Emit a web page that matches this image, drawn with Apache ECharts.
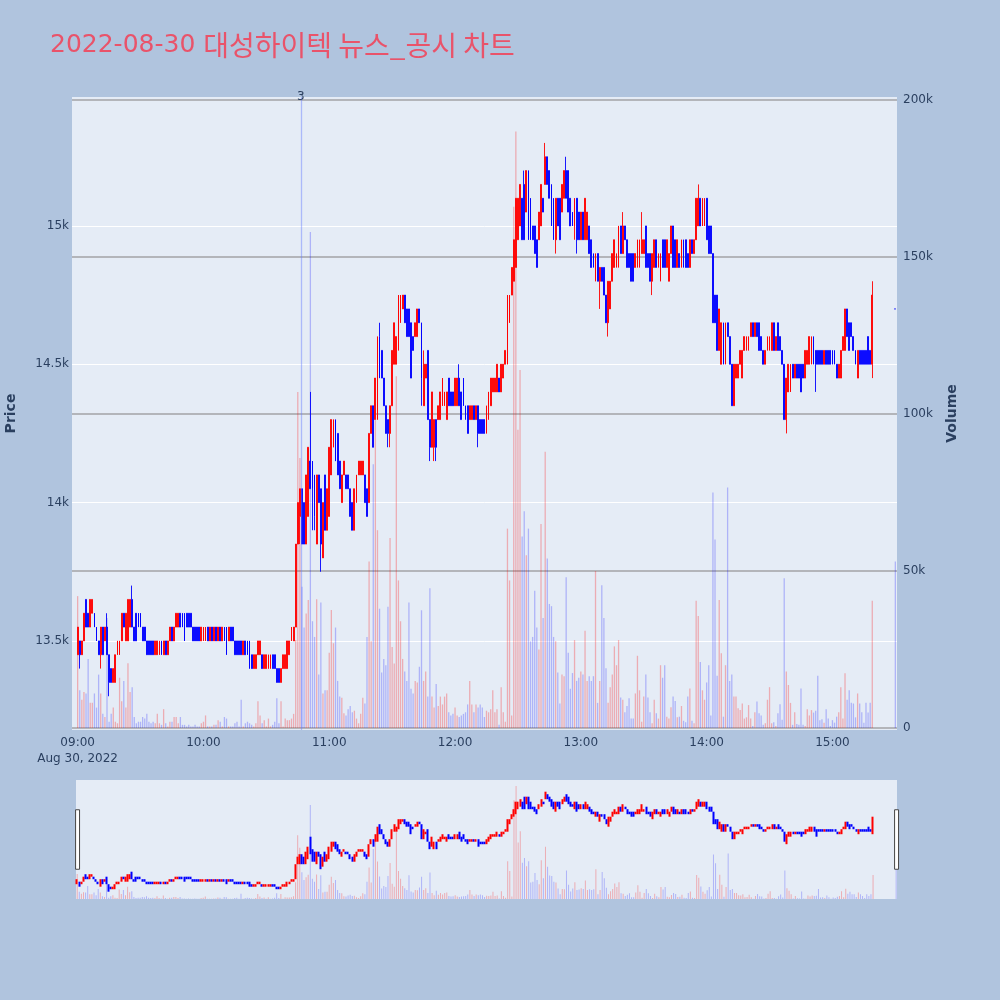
<!DOCTYPE html>
<html>
<head>
<meta charset="utf-8">
<script src="https://cdn.jsdelivr.net/npm/echarts@6/dist/echarts.min.js"></script>
<style>
html,body{margin:0;padding:0;background:#b0c4de;}
#chart{width:1000px;height:1000px;}
</style>
</head>
<body>
<div id="chart"></div>
<script>
// ---------------- data ----------------
const titleDate = '2022-08-30';
const titleName = '대성하이텍 뉴스_공시 차트';
const tradeDay = [2022, 7, 30];          // year, monthIndex, day
const sessionStart = [9, 0];             // first 1-minute candle
const closingAuction = [15, 30];         // last (auction) candle
const newsTime = [10, 46, 30];
const newsLabel = '3';
const dateLabel = 'Aug 30, 2022';

const opens = [
13450,13500,13450,13500,13650,13600,13550,13600,13600,13550,
13500,13450,13550,13500,13550,13450,13400,13350,13350,13450,
13450,13500,13600,13500,13500,13550,13650,13550,13600,13600,
13600,13550,13550,13500,13500,13500,13500,13450,13450,13450,
13500,13450,13500,13450,13500,13550,13500,13550,13550,13600,
13600,13600,13600,13600,13600,13550,13550,13550,13550,13500,
13500,13500,13550,13500,13550,13500,13550,13500,13550,13500,
13550,13550,13500,13550,13550,13500,13500,13500,13500,13450,
13500,13500,13500,13450,13400,13400,13450,13450,13450,13400,
13400,13400,13400,13450,13450,13400,13400,13350,13400,13400,
13400,13450,13500,13500,13550,13850,13950,14050,14000,13850,
13950,14150,14150,14100,13850,14100,14050,13800,14100,13900,
13950,14100,14200,14300,14250,14150,14000,14100,14100,14100,
14050,14000,13900,14000,14100,14100,14100,14100,14050,14000,
14250,14350,14300,14300,14600,14550,14450,14350,14300,14250,
14350,14500,14500,14550,14650,14700,14750,14700,14700,14650,
14600,14600,14600,14700,14650,14350,14450,14550,14300,14200,
14200,14300,14300,14300,14350,14350,14300,14450,14400,14400,
14350,14350,14450,14400,14450,14350,14350,14300,14300,14350,
14300,14350,14300,14300,14300,14250,14300,14350,14400,14400,
14400,14450,14400,14450,14500,14500,14650,14750,14800,14850,
14950,15000,15100,15150,15050,15200,15100,15000,15000,14950,
14950,15000,15100,15150,15250,15200,15150,15100,14950,15100,
15100,15050,15100,15200,15200,15100,15050,15000,15100,15050,
14950,15050,14950,14950,15000,14950,14900,14800,14900,14800,
14850,14850,14750,14650,14700,14800,14850,14850,14850,15000,
14900,15000,14950,14900,14900,14900,14850,14850,14850,14900,
14900,15000,14900,14900,14800,14850,14950,14850,14800,14950,
14950,14850,14800,14900,15000,14950,14850,14900,14850,14950,
14950,14900,14850,14950,14900,14950,15000,15100,15000,15000,
15100,15000,15000,14900,14750,14750,14550,14500,14650,14500,
14650,14600,14500,14350,14450,14450,14500,14450,14550,14550,
14550,14600,14650,14600,14650,14650,14600,14550,14500,14550,
14550,14550,14650,14550,14650,14600,14550,14500,14300,14400,
14400,14500,14450,14500,14500,14500,14500,14450,14500,14500,
14500,14600,14550,14550,14550,14550,14500,14550,14550,14550,
14550,14550,14500,14450,14450,14550,14550,14700,14650,14650,
14600,14550,14450,14550,14550,14550,14550,14600,14550,14500,
14700];

const closes = [
13550,13450,13500,13600,13550,13550,13650,13650,13550,13500,
13450,13550,13450,13550,13450,13350,13350,13400,13450,13500,
13500,13600,13550,13600,13650,13650,13550,13500,13500,13550,
13550,13500,13500,13450,13450,13450,13450,13500,13500,13500,
13450,13500,13450,13500,13550,13500,13550,13600,13600,13550,
13550,13500,13550,13550,13550,13500,13500,13500,13500,13550,
13550,13550,13500,13550,13500,13550,13500,13550,13500,13550,
13500,13450,13550,13500,13500,13450,13450,13450,13450,13500,
13450,13450,13400,13400,13450,13450,13500,13500,13400,13450,
13450,13450,13450,13400,13400,13350,13350,13400,13450,13450,
13500,13500,13550,13550,13850,14000,14050,13850,13850,14100,
14200,14050,14050,13950,14100,14000,13850,14000,13900,14050,
14200,14300,14300,14150,14100,14050,14100,14150,14050,14050,
13950,13900,14050,14100,14150,14150,14150,14000,13950,14250,
14350,14200,14450,14600,14450,14450,14350,14250,14250,14350,
14550,14650,14600,14750,14750,14750,14650,14600,14600,14450,
14550,14650,14700,14650,14450,14500,14500,14300,14200,14400,
14300,14200,14350,14400,14450,14400,14400,14350,14350,14350,
14450,14450,14350,14300,14350,14300,14250,14350,14350,14300,
14350,14250,14250,14250,14250,14350,14400,14450,14450,14450,
14500,14400,14500,14500,14550,14750,14750,14850,14950,15100,
15100,15150,14950,14950,15200,14950,14950,14950,14900,14850,
15050,15150,15050,15250,15150,15100,15000,14950,15100,15000,
14950,15150,15200,15100,15050,15000,15000,15100,14950,14950,
15050,14950,15100,15050,14900,14850,14850,14900,14800,14850,
14800,14750,14650,14800,14800,14900,14950,14900,15000,14900,
15000,14950,14850,14850,14800,14800,14900,14950,14950,14950,
14950,14850,14850,14800,14900,14950,14850,14900,14900,14850,
14850,14950,14900,15000,14850,14850,14950,14850,14950,14850,
14850,14850,14950,14900,14950,15100,15100,15000,15100,15100,
14950,14900,14900,14650,14650,14550,14700,14650,14500,14650,
14600,14500,14350,14500,14500,14500,14550,14550,14600,14600,
14600,14650,14600,14650,14600,14550,14550,14500,14550,14600,
14600,14650,14550,14600,14550,14550,14500,14300,14450,14500,
14500,14450,14500,14450,14450,14400,14450,14550,14550,14600,
14600,14500,14500,14500,14500,14500,14550,14500,14500,14500,
14500,14500,14450,14500,14550,14600,14700,14600,14550,14600,
14550,14500,14550,14500,14500,14500,14500,14500,14500,14750,
14700];

const lows = [
13450,13400,13450,13500,13550,13550,13550,13600,13550,13500,
13450,13400,13450,13500,13450,13300,13350,13350,13350,13450,
13450,13500,13550,13500,13500,13550,13550,13500,13500,13550,
13550,13500,13500,13450,13450,13450,13450,13450,13450,13450,
13450,13450,13450,13450,13500,13500,13500,13550,13550,13550,
13550,13500,13550,13550,13550,13500,13500,13500,13500,13500,
13500,13500,13500,13500,13500,13500,13500,13500,13500,13500,
13500,13450,13500,13500,13500,13450,13450,13450,13450,13450,
13450,13450,13400,13400,13400,13400,13450,13450,13400,13400,
13400,13400,13400,13400,13400,13350,13350,13350,13400,13400,
13400,13450,13500,13500,13550,13850,13850,13850,13850,13850,
13950,14050,13900,13900,13850,14000,13750,13800,13900,13900,
13950,14100,14200,14150,14100,14050,14000,14100,14050,14050,
13950,13900,13900,14000,14100,14100,14100,14000,13950,14000,
14250,14200,14300,14300,14450,14450,14350,14250,14200,14200,
14350,14500,14500,14550,14650,14700,14650,14600,14600,14450,
14550,14600,14600,14650,14350,14350,14450,14300,14150,14200,
14150,14150,14300,14300,14350,14350,14300,14350,14350,14350,
14350,14350,14350,14300,14350,14300,14250,14300,14300,14300,
14300,14200,14250,14250,14250,14250,14300,14350,14400,14400,
14400,14400,14400,14450,14500,14500,14650,14750,14800,14850,
14950,15000,14950,14950,15050,14950,14950,14950,14900,14850,
14950,15000,15050,15150,15150,15100,15000,14950,14900,15000,
14950,15050,15100,15100,15050,15000,15000,14950,14900,14950,
14950,14950,14950,14950,14900,14850,14850,14800,14800,14700,
14800,14750,14650,14600,14700,14800,14850,14850,14850,14900,
14900,14950,14850,14850,14800,14800,14850,14850,14850,14900,
14900,14850,14850,14800,14750,14850,14850,14850,14800,14850,
14850,14850,14800,14900,14850,14850,14850,14850,14850,14850,
14850,14850,14850,14900,14900,14950,15000,15000,15000,15000,
14950,14900,14900,14650,14650,14550,14550,14500,14500,14500,
14600,14500,14350,14350,14450,14450,14500,14450,14550,14550,
14550,14600,14600,14600,14600,14550,14550,14500,14500,14550,
14550,14550,14550,14550,14550,14550,14500,14300,14250,14400,
14400,14450,14450,14450,14450,14400,14450,14450,14500,14500,
14500,14500,14400,14500,14500,14500,14500,14500,14500,14500,
14500,14500,14450,14450,14450,14550,14550,14600,14550,14600,
14550,14500,14450,14500,14500,14500,14500,14500,14500,14450,
14700];

const highs = [
13550,13500,13500,13600,13650,13600,13650,13650,13600,13550,
13500,13550,13550,13550,13600,13450,13400,13400,13450,13500,
13500,13600,13600,13600,13650,13650,13700,13550,13600,13600,
13600,13550,13550,13500,13500,13500,13500,13500,13500,13500,
13500,13500,13500,13500,13550,13550,13550,13600,13600,13600,
13600,13600,13600,13600,13600,13550,13550,13550,13550,13550,
13550,13550,13550,13550,13550,13550,13550,13550,13550,13550,
13550,13550,13550,13550,13550,13500,13500,13500,13500,13500,
13500,13500,13500,13450,13450,13450,13500,13500,13450,13450,
13450,13450,13450,13450,13450,13400,13400,13400,13450,13450,
13500,13500,13550,13550,13850,14000,14050,14050,14000,14100,
14200,14400,14150,14100,14100,14100,14050,14000,14100,14050,
14200,14300,14300,14300,14250,14150,14100,14150,14100,14100,
14050,14000,14050,14100,14150,14150,14150,14100,14050,14250,
14350,14350,14450,14600,14650,14550,14450,14350,14300,14350,
14550,14650,14600,14750,14750,14750,14750,14700,14700,14650,
14600,14650,14700,14700,14650,14550,14500,14550,14300,14400,
14300,14300,14350,14400,14450,14400,14400,14450,14400,14400,
14450,14450,14500,14400,14450,14350,14350,14350,14350,14350,
14350,14350,14300,14300,14300,14350,14400,14450,14450,14450,
14500,14450,14500,14500,14550,14750,14750,14850,14950,15100,
15100,15150,15100,15200,15200,15200,15100,15000,15000,14950,
15050,15150,15100,15300,15250,15200,15150,15100,15100,15100,
15100,15150,15200,15250,15200,15100,15050,15100,15100,15050,
15050,15050,15100,15050,15000,14950,14900,14900,14900,14850,
14850,14850,14750,14800,14800,14900,14950,14900,15000,15000,
15050,15000,14950,14900,14900,14900,14900,14950,14950,15050,
14950,15000,14900,14900,14900,14950,14950,14900,14900,14950,
14950,14950,14900,15000,15000,14950,14950,14900,14950,14950,
14950,14900,14950,14950,14950,15100,15150,15100,15100,15100,
15100,15000,15000,14900,14750,14750,14700,14650,14650,14650,
14650,14600,14500,14500,14500,14500,14550,14550,14600,14600,
14600,14650,14650,14650,14650,14650,14600,14550,14550,14600,
14600,14650,14650,14600,14650,14600,14550,14500,14450,14500,
14500,14500,14500,14500,14500,14500,14500,14550,14550,14600,
14600,14600,14550,14550,14550,14550,14550,14550,14550,14550,
14550,14550,14500,14500,14550,14600,14700,14700,14650,14650,
14600,14550,14550,14550,14550,14550,14550,14600,14550,14800,
14700];

const volumes = [
42000,12000,9000,11500,11000,22000,8000,8000,11000,6500,
17000,11000,4500,3500,35000,2000,4500,6500,2000,1500,
16000,8500,15000,6500,20600,11500,13000,3500,1500,2000,
2000,3500,3000,4500,2000,1500,2000,1500,4500,1500,
1000,6000,1500,500,2000,2000,3500,3500,1500,3500,
1000,1000,500,1000,500,500,1000,500,500,1500,
2000,4000,500,500,500,1000,1000,2500,2000,500,
3500,3000,500,500,500,1500,2000,500,9000,500,
1500,2000,1500,1000,500,1500,8500,4000,1500,2500,
500,3000,500,1000,2000,9500,1500,8500,500,3000,
2500,2500,3000,4500,28000,107000,86000,45000,32000,36500,
40800,158000,34000,29000,41000,17000,40000,11000,12000,12000,
24000,37600,27000,32000,15000,10000,9600,4700,4000,6000,
7000,5000,5500,3000,1500,4500,9600,7800,29000,53000,
27600,84000,98000,63000,38000,17700,22000,20000,38600,60500,
25800,20500,112000,47000,34000,22000,18000,15000,40000,12500,
11000,15000,14500,19500,37500,15000,18000,10000,44500,10000,
6500,14000,7000,10000,7500,10000,11000,5000,4000,4500,
6500,4000,3500,4000,4500,5000,7500,15000,7500,5000,
7500,6500,7500,6500,3500,5500,5000,6000,12000,5000,
6000,1000,13000,5000,2000,63500,47000,4000,166000,190000,
95000,114000,61000,69000,55000,63500,27600,29000,43700,32000,
25000,65000,35000,88000,54000,39500,38800,29000,27600,17700,
7800,17000,16500,48000,24000,12500,17500,28000,15000,16000,
18000,17000,31000,15000,16500,15000,16500,50000,8000,15000,
45500,35000,19000,8000,13000,17000,26000,20000,28000,9700,
9000,5000,7000,9500,3000,3000,11000,23000,12000,2000,
10000,17000,9700,5000,1500,9000,4700,3000,20000,16000,
20000,3600,3000,6600,10000,8600,3400,3600,7000,2300,
1800,10000,12600,2300,1500,40500,35700,21000,12000,9000,
14500,20000,4000,75000,60000,16600,40800,23800,3600,20000,
76600,15000,17000,10000,10000,6300,5700,7800,3000,3400,
7300,3000,600,5000,8400,4700,4000,1000,1500,9000,
13000,1500,1800,600,4700,7600,2600,47700,18000,13700,
8000,1000,5000,1300,1000,12600,1000,600,6000,4000,
5700,4900,5500,16600,2500,2800,1700,6000,3000,600,
2500,1700,3600,5000,13000,3000,17400,9000,12000,8000,
7800,3400,11000,7800,5000,1700,8000,4900,8000,40500,
53000];

// ---------------- build ----------------
const FONT = "'DejaVu Sans', 'Noto Sans CJK KR', sans-serif";
const TXT = '#2a3f5f';
const UP = '#ff0000', DOWN = '#0000ff';
const TITLE_COLOR = '#e9536a';

function stamp(h, m, s) {
  return new Date(tradeDay[0], tradeDay[1], tradeDay[2], h, m, s || 0).getTime();
}
const n = opens.length;
const times = opens.map((_, i) => i < n - 1
  ? stamp(sessionStart[0], sessionStart[1] + i)
  : stamp(closingAuction[0], closingAuction[1]));

function isUp(i) {
  if (closes[i] !== opens[i]) return closes[i] > opens[i];
  return i > 0 ? closes[i] >= closes[i - 1] : true;
}
const candleData = times.map((t, i) => {
  const c = isUp(i) ? UP : DOWN;
  return {
    value: [t, opens[i], closes[i], lows[i], highs[i]],
    itemStyle: { color: c, color0: c, borderColor: c, borderColor0: c, borderColorDoji: c }
  };
});
const volData = times.map((t, i) => ({
  value: [t, volumes[i]],
  itemStyle: { color: isUp(i) ? 'rgba(255,0,0,0.27)' : 'rgba(0,0,255,0.24)' }
}));

const mainMin = stamp(8, 57, 37), mainMax = stamp(15, 30, 29);
const miniMin = stamp(8, 59, 40), miniMax = stamp(15, 30, 10);

function pad(v) { return (v < 10 ? '0' : '') + v; }

const chart = echarts.init(document.getElementById('chart'), null, { width: 1000, height: 1000 });

const option = {
  backgroundColor: '#b0c4de',
  animation: false,
  title: {
    text: '{d|' + titleDate + ' }{k|' + titleName + '}', left: 45, top: 26,
    textStyle: {
      fontWeight: 'normal',
      rich: {
        d: { fontFamily: FONT, fontSize: 25, fontWeight: 'normal', color: TITLE_COLOR },
        k: { fontFamily: "'Noto Sans CJK KR', sans-serif", fontSize: 28, fontWeight: 'normal', color: TITLE_COLOR }
      }
    }
  },
  grid: [
    { left: 72, right: 103, top: 97, height: 633, show: true, backgroundColor: '#e5ecf6', borderWidth: 0, containLabel: false, outerBoundsMode: 'none' },
    { left: 76, right: 103, top: 780, height: 119, show: true, backgroundColor: '#e5ecf6', borderWidth: 0, containLabel: false, outerBoundsMode: 'none' }
  ],
  xAxis: [
    {
      type: 'time', gridIndex: 0, min: mainMin, max: mainMax,
      minInterval: 3600000, maxInterval: 3600000,
      axisLine: { show: false }, axisTick: { show: false }, splitLine: { show: false },
      axisLabel: {
        color: TXT, fontFamily: FONT, fontSize: 12, lineHeight: 16, margin: 5,
        showMinLabel: false, showMaxLabel: false,
        formatter: function (v) {
          const d = new Date(v);
          const s = pad(d.getHours()) + ':' + pad(d.getMinutes());
          return (d.getHours() === sessionStart[0] && d.getMinutes() === 0) ? s + '\n' + dateLabel : s;
        }
      }
    },
    { type: 'time', gridIndex: 1, min: miniMin, max: miniMax, show: false }
  ],
  yAxis: [
    {
      type: 'value', gridIndex: 0, position: 'left', min: 13178, max: 15466,
      name: 'Price', nameLocation: 'middle', nameRotate: 90, nameGap: 54,
      nameTextStyle: { color: TXT, fontFamily: FONT, fontSize: 14, fontWeight: 'bold' },
      axisLine: { show: false }, axisTick: { show: false },
      splitLine: { show: true, showMinLine: false, showMaxLine: false, lineStyle: { color: '#ffffff', width: 1 } },
      axisLabel: {
        color: TXT, fontFamily: FONT, fontSize: 12, margin: 3,
        showMinLabel: false, showMaxLabel: false,
        formatter: v => (v / 1000) + 'k'
      }
    },
    {
      type: 'value', gridIndex: 0, position: 'right', min: -640, max: 200960,
      name: 'Volume', nameLocation: 'middle', nameRotate: 90, nameGap: 48,
      nameTextStyle: { color: TXT, fontFamily: FONT, fontSize: 14, fontWeight: 'bold' },
      axisLine: { show: false }, axisTick: { show: false },
      splitLine: { show: true, showMinLine: false, showMaxLine: false, lineStyle: { color: '#b3b5ba', width: 2 } },
      axisLabel: {
        color: TXT, fontFamily: FONT, fontSize: 12, margin: 6,
        showMinLabel: false, showMaxLabel: false,
        formatter: v => v === 0 ? '0' : (v / 1000) + 'k'
      }
    },
    { type: 'value', gridIndex: 1, min: 13154, max: 15534, show: false },
    { type: 'value', gridIndex: 1, min: 0, max: 200000, show: false }
  ],
  dataZoom: [{
    type: 'slider', xAxisIndex: 1, filterMode: 'none', start: 0, end: 100, zoomLock: true,
    left: 76, right: 103, top: 780, height: 119,
    backgroundColor: 'rgba(0,0,0,0)', borderColor: 'rgba(0,0,0,0)', fillerColor: 'rgba(0,0,0,0)',
    showDataShadow: false, showDetail: false, brushSelect: false, moveHandleSize: 0,
    dataBackground: { lineStyle: { opacity: 0 }, areaStyle: { opacity: 0 } },
    handleIcon: 'path://M0,0H4V60H0Z', handleSize: '50%',
    handleStyle: { color: '#ffffff', borderColor: '#444444', borderWidth: 1 },
    emphasis: { handleStyle: { color: '#ffffff', borderColor: '#444444', borderWidth: 1 } }
  }],
  series: [
    {
      type: 'bar', name: 'Volume', xAxisIndex: 0, yAxisIndex: 1, data: volData,
      barWidth: 1.3, z: 1, silent: true
    },
    {
      type: 'candlestick', name: 'Price', xAxisIndex: 0, yAxisIndex: 0, data: candleData,
      encode: { x: 0, y: [1, 2, 3, 4] },
      barWidth: 1.32, z: 2, silent: true,
      itemStyle: { color: UP, color0: DOWN, borderColor: UP, borderColor0: DOWN, borderWidth: 0.9 },
      markLine: {
        silent: true, symbol: ['none', 'none'], animation: false,
        lineStyle: { color: 'rgba(100,125,255,0.45)', width: 1.3, type: 'solid' },
        label: { show: true, position: 'end', formatter: newsLabel, color: TXT, fontFamily: FONT, fontSize: 12, distance: -6 },
        data: [{ xAxis: stamp(newsTime[0], newsTime[1], newsTime[2]) }]
      }
    },
    {
      type: 'bar', xAxisIndex: 1, yAxisIndex: 3, data: volData,
      barWidth: 1, z: 1, silent: true
    },
    {
      type: 'candlestick', xAxisIndex: 1, yAxisIndex: 2, data: candleData,
      encode: { x: 0, y: [1, 2, 3, 4] },
      barWidth: 0.5, z: 2, silent: true,
      itemStyle: { color: UP, color0: DOWN, borderColor: UP, borderColor0: DOWN, borderWidth: 2 }
    }
  ]
};
chart.setOption(option);
</script>
</body>
</html>
